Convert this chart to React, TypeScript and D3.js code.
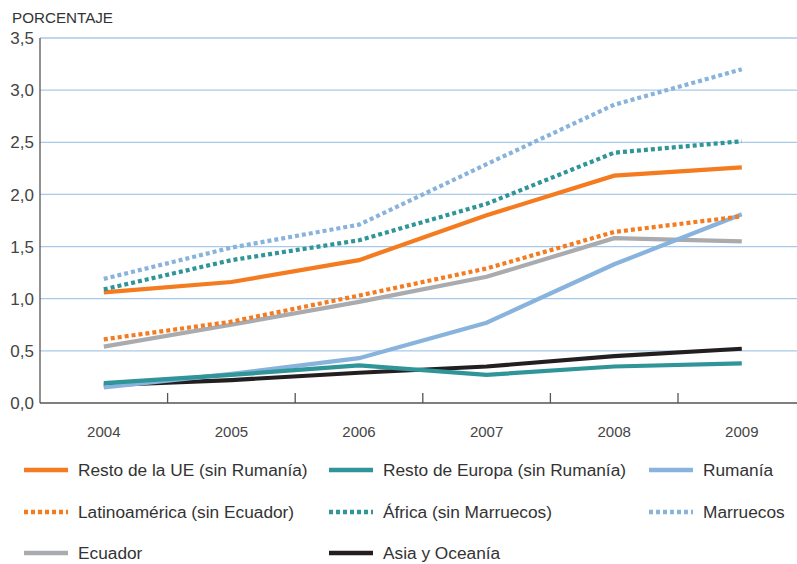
import React from "react";
import * as d3 from "d3";

const years = ["2004", "2005", "2006", "2007", "2008", "2009"];
const yTicks = [0, 0.5, 1, 1.5, 2, 2.5, 3, 3.5];

const restoUE = [1.06, 1.16, 1.37, 1.8, 2.18, 2.26];
const restoEuropa = [0.19, 0.27, 0.36, 0.27, 0.35, 0.38];
const rumania = [0.15, 0.28, 0.43, 0.77, 1.33, 1.81];
const latinoamerica = [0.61, 0.78, 1.03, 1.29, 1.64, 1.79];
const africa = [1.09, 1.37, 1.56, 1.91, 2.4, 2.51];
const marruecos = [1.19, 1.49, 1.71, 2.29, 2.86, 3.2];
const ecuador = [0.54, 0.75, 0.97, 1.21, 1.58, 1.55];
const asia = [0.17, 0.22, 0.29, 0.35, 0.45, 0.52];

const seriesNames = [
  "Resto de la UE (sin Rumanía)",
  "Resto de Europa (sin Rumanía)",
  "Rumanía",
  "Latinoamérica (sin Ecuador)",
  "África (sin Marruecos)",
  "Marruecos",
  "Ecuador",
  "Asia y Oceanía",
];

const ORANGE = "#f47b20";
const TEAL = "#2f9598";
const LBLUE = "#88b3dc";
const GRAY = "#a9abae";
const BLACK = "#231f20";

const series = [
  { name: seriesNames[0], values: restoUE, color: ORANGE, dashed: false },
  { name: seriesNames[1], values: restoEuropa, color: TEAL, dashed: false },
  { name: seriesNames[2], values: rumania, color: LBLUE, dashed: false },
  { name: seriesNames[3], values: latinoamerica, color: ORANGE, dashed: true },
  { name: seriesNames[4], values: africa, color: TEAL, dashed: true },
  { name: seriesNames[5], values: marruecos, color: LBLUE, dashed: true },
  { name: seriesNames[6], values: ecuador, color: GRAY, dashed: false },
  { name: seriesNames[7], values: asia, color: BLACK, dashed: false },
];

// draw order (bottom to top)
const drawOrder = [6, 7, 2, 1, 0, 3, 4, 5];

export default function App() {
  const W = 797;
  const H = 564;
  const left = 40;
  const top = 38;
  const bottom = 403;
  const x = d3.scaleBand<string>().domain(years).range([left, left + 6 * 127.6]);
  const y = d3.scaleLinear().domain([0, 3.5]).range([bottom, top]);
  const line = d3
    .line<number>()
    .x((_, i) => (x(years[i]) as number) + x.bandwidth() / 2)
    .y((v) => y(v));

  const font = "'Liberation Sans', Arial, Helvetica, sans-serif";
  const legendCols = [24, 329, 649];
  const legendRows = [470, 512, 553];

  return (
    <svg
      width={W}
      height={H}
      style={{ position: "absolute", left: 0, top: 0, background: "#fff" }}
      fontFamily={font}
    >
      <text x={12} y={23} fontSize={15.2} fill="#333">
        PORCENTAJE
      </text>
      {yTicks.map((t) =>
        t > 0 ? (
          <line key={"g" + t} x1={left} x2={W} y1={y(t)} y2={y(t)} stroke="#a9c9e8" strokeWidth={1.3} />
        ) : null
      )}
      {yTicks.map((t) => (
        <text
          key={"yl" + t}
          x={34}
          y={y(t)}
          dy="0.36em"
          textAnchor="end"
          fontSize={17}
          fill="#444"
        >
          {d3.format(".1f")(t).replace(".", ",")}
        </text>
      ))}
      <line x1={left} x2={left} y1={top} y2={bottom} stroke="#555" strokeWidth={1.3} />
      <line x1={left} x2={W} y1={bottom} y2={bottom} stroke="#555" strokeWidth={1.3} />
      {years.slice(1).map((yr) => (
        <line
          key={"t" + yr}
          x1={x(yr) as number}
          x2={x(yr) as number}
          y1={bottom}
          y2={bottom - 10}
          stroke="#555"
          strokeWidth={1.3}
        />
      ))}
      {years.map((yr) => (
        <text
          key={"xl" + yr}
          x={(x(yr) as number) + x.bandwidth() / 2}
          y={437}
          textAnchor="middle"
          fontSize={15}
          fill="#444"
        >
          {yr}
        </text>
      ))}
      {drawOrder.map((i) => {
        const s = series[i];
        return (
          <path
            key={"s" + i}
            d={line(s.values) || ""}
            fill="none"
            stroke={s.color}
            strokeWidth={4.2}
            strokeDasharray={s.dashed ? "4,3" : undefined}
            strokeLinejoin="miter"
          />
        );
      })}
      {series.map((s, i) => {
        const cx = legendCols[i % 3];
        const cy = legendRows[Math.floor(i / 3)];
        return (
          <g key={"lg" + i}>
            <line
              x1={cx}
              x2={cx + 44}
              y1={cy}
              y2={cy}
              stroke={s.color}
              strokeWidth={4.5}
              strokeDasharray={s.dashed ? "4,3" : undefined}
            />
            <text x={cx + 54} y={cy} dy="0.35em" fontSize={17.3} fill="#333">
              {s.name}
            </text>
          </g>
        );
      })}
    </svg>
  );
}
